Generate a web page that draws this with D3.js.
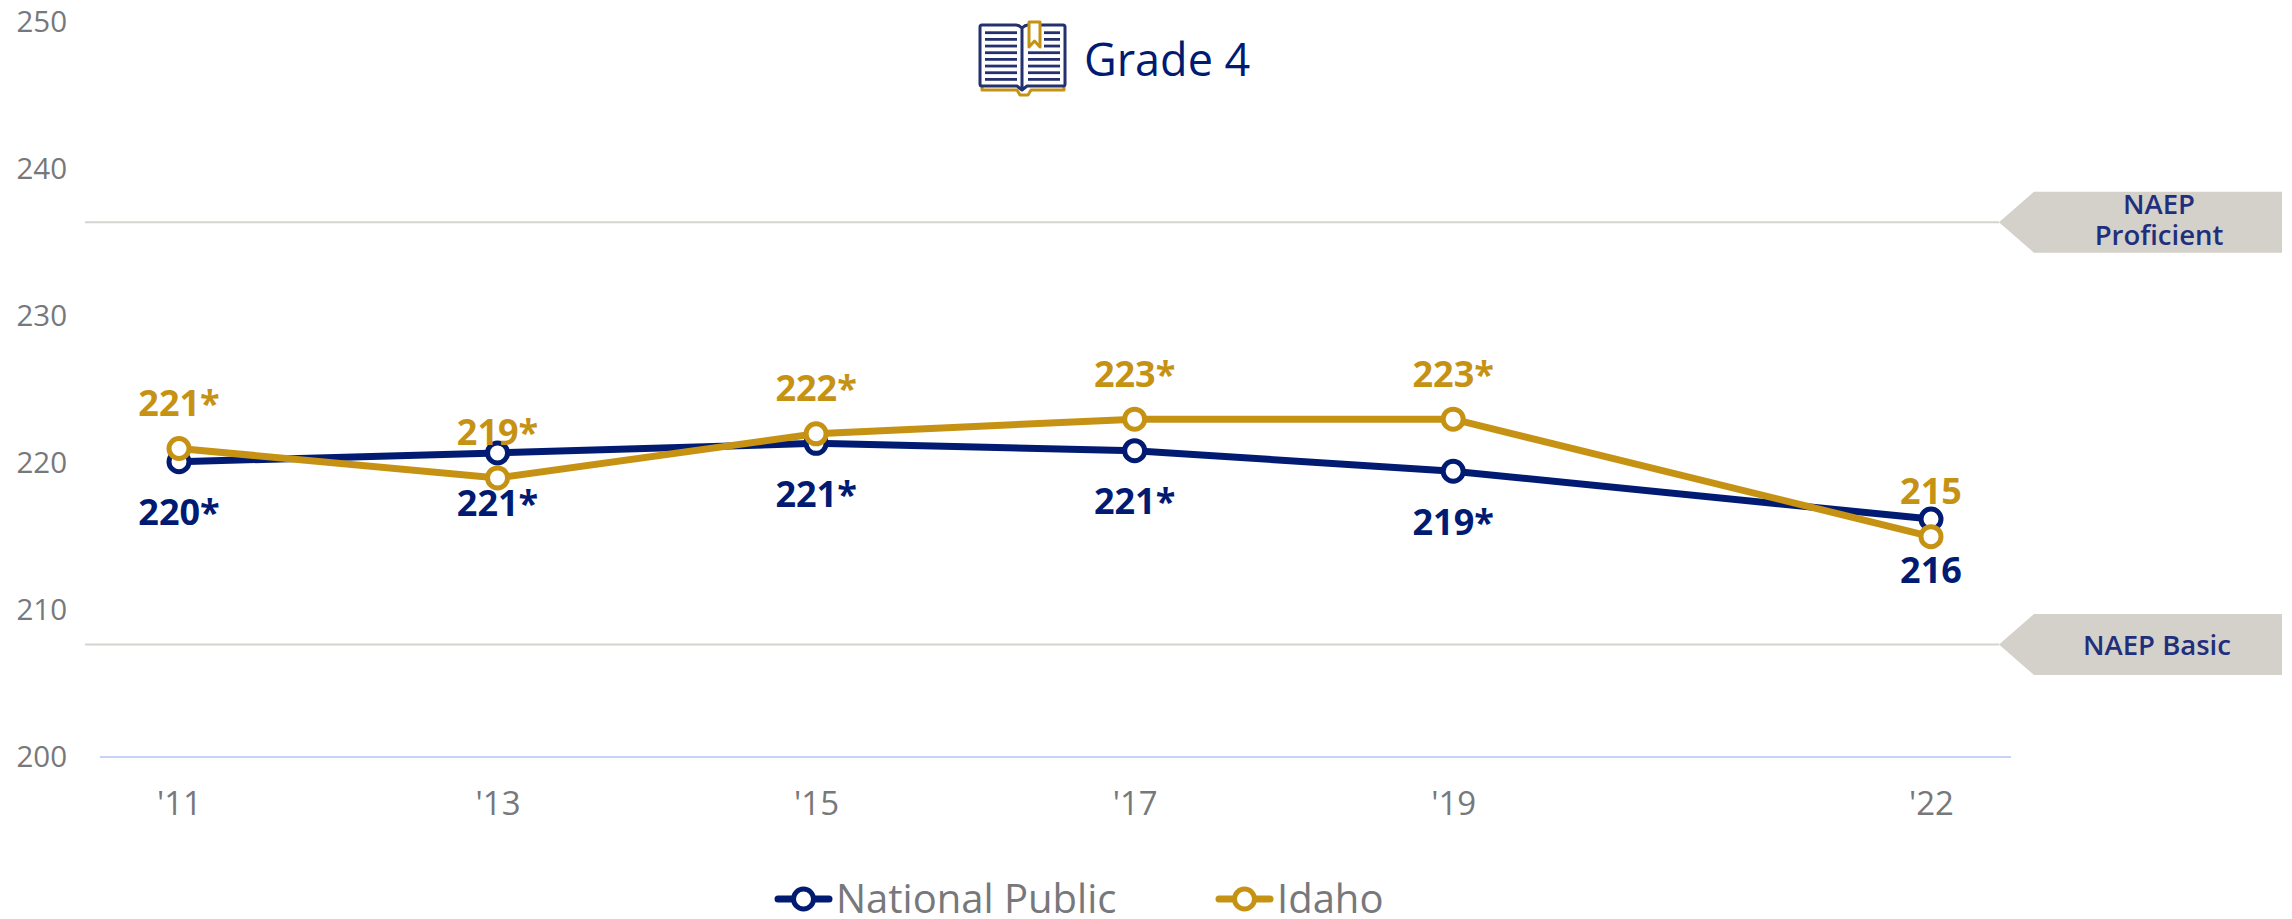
<!DOCTYPE html>
<html><head><meta charset="utf-8">
<script src="https://cdn.jsdelivr.net/npm/d3@7/dist/d3.min.js"></script>
<style>html,body{margin:0;padding:0;background:#fff;overflow:hidden}svg{display:block}text{font-family:"Open Sans",sans-serif}</style>
</head><body><svg id="c" width="2292" height="919"></svg>
<script>
const years=[2011,2013,2015,2017,2019,2022];
const yearLabels=["'11","'13","'15","'17","'19","'22"];
const nationalPublic=[220.1,220.7,221.35,220.85,219.45,216.2];
const nationalLabels=["220*","221*","221*","221*","219*","216"];
const idaho=[221,219,222,223,223,215];
const idahoLabels=["221*","219*","222*","223*","223*","215"];
const yTicks=[200,210,220,230,240,250];
const levelNames=[["NAEP","Proficient"],["NAEP Basic"]];
const levelValues=[236.4,207.65];
const NAVY="#001b71",GOLD="#c69214",GREY="#77787b";
const svg=d3.select("#c");
const x=d3.scaleLinear().domain([2011,2022]).range([179,1931]);
const y=d3.scaleLinear().domain([200,250]).range([757,22.5]);

const ya=svg.append("g").attr("transform","translate(67,0)")
 .call(d3.axisLeft(y).tickValues(yTicks).tickSize(0).tickPadding(0));
ya.select(".domain").remove();
ya.selectAll("text").attr("font-size",29.5).attr("fill",GREY).style("font-family",'"Open Sans",sans-serif').attr("dy","0.32em").attr("y",0);
const xa=svg.append("g").attr("transform","translate(0,792)")
 .call(d3.axisBottom(x).tickValues(years).tickFormat((d,i)=>yearLabels[i]).tickSize(0).tickPadding(0));
xa.select(".domain").remove();
xa.selectAll("text").attr("font-size",33).attr("fill",GREY).style("font-family",'"Open Sans",sans-serif').attr("dy","0.71em");
svg.append("line").attr("x1",100).attr("x2",2011).attr("y1",y(200)).attr("y2",y(200)).attr("stroke","#c6d2f6").attr("stroke-width",2);
levelValues.forEach((v,k)=>{
 const py=y(v),h=30.5,tip=1999,name=levelNames[k];
 svg.append("line").attr("x1",85).attr("x2",tip).attr("y1",py).attr("y2",py).attr("stroke","#d6d3cf").attr("stroke-width",2);
 svg.append("path").attr("d",d3.line()([[tip,py],[tip+35,py-h],[2282,py-h],[2282,py+h],[tip+35,py+h]])+"Z").attr("fill","#d4d0ca");
 const cx=name.length>1?2159:2157;
 name.forEach((s,i)=>svg.append("text").attr("text-anchor","middle").attr("fill","#1f2f7c").attr("font-size",27.5).attr("font-weight",600).attr("x",cx).attr("y",name.length>1?py+(i?23:-8):py+10).text(s));
});
const line=vals=>d3.line().x((d,i)=>x(years[i])).y(d=>y(d))(vals);
function series(vals,color){
 const g=svg.append("g");
 g.append("path").attr("d",line(vals)).attr("fill","none").attr("stroke",color).attr("stroke-width",7);
 g.selectAll("circle").data(vals).join("circle").attr("cx",(d,i)=>x(years[i])).attr("cy",d=>y(d)).attr("r",10).attr("fill","#fff").attr("stroke",color).attr("stroke-width",5);
}
series(nationalPublic,NAVY);
series(idaho,GOLD);
function labels(vals,txt,color,dy){
 svg.append("g").selectAll("text").data(vals).join("text").attr("x",(d,i)=>x(years[i])).attr("y",d=>y(d)+dy).attr("text-anchor","middle").attr("dominant-baseline","central").attr("font-size",36).attr("font-weight",700).attr("fill",color).text((d,i)=>txt[i]);
}
labels(nationalPublic,nationalLabels,NAVY,50);
labels(idaho,idahoLabels,GOLD,-46);

const ic=svg.append("g").attr("fill","none").attr("stroke-linejoin","round");
ic.append("path").attr("d","M982 87V90H1017L1020 95H1028L1031 90H1064V87").attr("stroke",GOLD).attr("stroke-width",3);
ic.append("path").attr("d","M1022 28Q1019 25 1016 25H982Q980 25 980 27V84Q980 86 982 86H1017L1022 90L1027 86H1063Q1065 86 1065 84V27Q1065 25 1063 25H1028Q1025 25 1022 28V88").attr("stroke","#25306f").attr("stroke-width",3);
d3.range(32.7,80,6.67).forEach((ry,i)=>{
 ic.append("line").attr("x1",985).attr("x2",1017).attr("y1",ry).attr("y2",ry).attr("stroke","#25306f").attr("stroke-width",2.8);
 ic.append("line").attr("x1",i<3?1044:1028).attr("x2",1060).attr("y1",ry).attr("y2",ry).attr("stroke","#25306f").attr("stroke-width",2.8);
});
ic.append("path").attr("d","M1029 22H1040V47L1034.5 41L1029 47Z").attr("stroke",GOLD).attr("stroke-width",3).attr("fill","#fff");
svg.append("text").attr("x",1084).attr("y",76).attr("font-size",45).attr("fill",NAVY).text("Grade 4");

[["National Public",NAVY,775],["Idaho",GOLD,1216]].forEach(([n,c,lx])=>{
 svg.append("line").attr("x1",lx+3).attr("x2",lx+54).attr("y1",899).attr("y2",899).attr("stroke",c).attr("stroke-width",7).attr("stroke-linecap","round");
 svg.append("circle").attr("cx",lx+28.5).attr("cy",899).attr("r",10).attr("fill","#fff").attr("stroke",c).attr("stroke-width",5);
 svg.append("text").attr("x",lx+61).attr("y",913).attr("font-size",40).attr("fill",GREY).text(n);
});
</script></body></html>
